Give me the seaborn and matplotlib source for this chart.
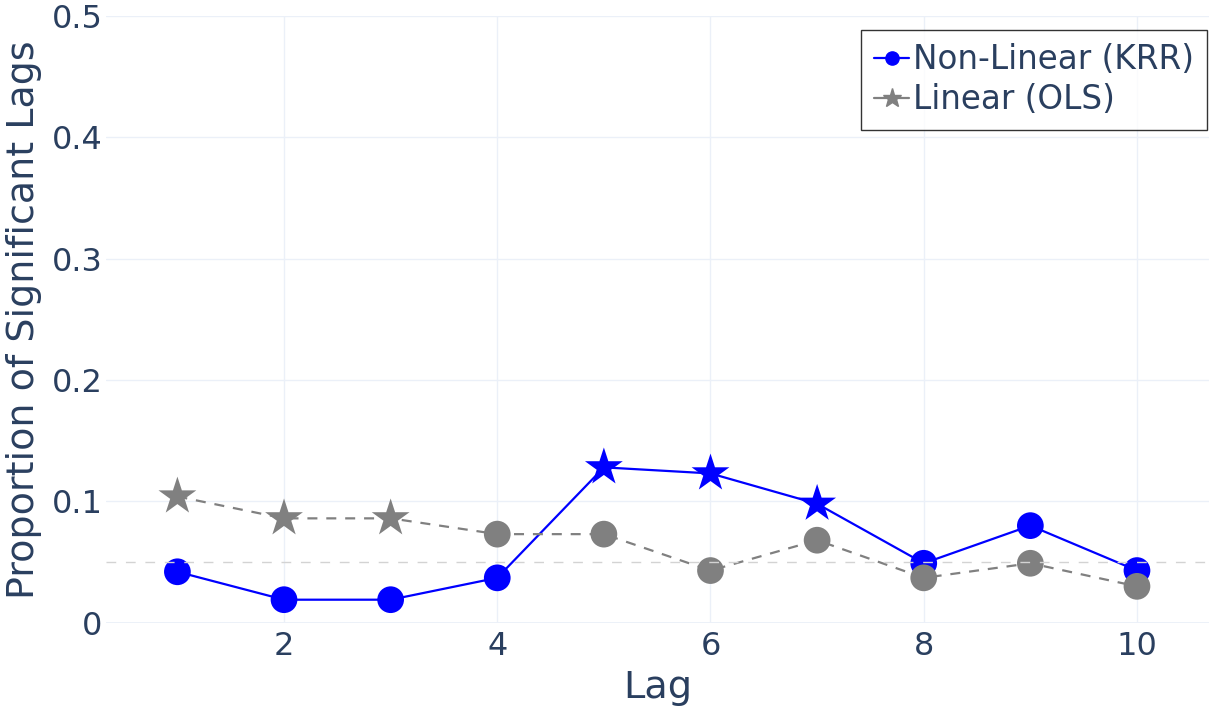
import numpy as np
import pandas as pd
import matplotlib
matplotlib.use("Agg")
import matplotlib.pyplot as plt
from matplotlib.lines import Line2D
import seaborn as sns

lags = [1, 2, 3, 4, 5, 6, 7, 8, 9, 10]
krr_vals = [0.042, 0.019, 0.019, 0.037, 0.128, 0.123, 0.098, 0.049, 0.080, 0.043]
krr_sig = [False, False, False, False, True, True, True, False, False, False]
ols_vals = [0.104, 0.086, 0.086, 0.073, 0.073, 0.043, 0.068, 0.037, 0.049, 0.030]
ols_sig = [True, True, True, False, False, False, False, False, False, False]
threshold = 0.05
yticks = [0, 0.1, 0.2, 0.3, 0.4, 0.5]
ytick_labels = ["0", "0.1", "0.2", "0.3", "0.4", "0.5"]
xticks = [2, 4, 6, 8, 10]

krr = pd.DataFrame({"lag": lags, "val": krr_vals,
                    "mk": ["star" if s else "circle" for s in krr_sig]})
ols = pd.DataFrame({"lag": lags, "val": ols_vals,
                    "mk": ["star" if s else "circle" for s in ols_sig]})

sns.set_style("white")
plt.rcParams['font.family'] = ['DejaVu Sans']
txt = "#2a3f5f"
grid = "#ebf0f8"

fig = plt.figure(figsize=(12.18, 7.15), dpi=100)
ax = fig.add_axes([0.087, 0.129, 0.906, 0.849])

mk_map = {"circle": "o", "star": "*"}
size_map = {"circle": 370, "star": 820}

# KRR
sns.lineplot(data=krr, x="lag", y="val", ax=ax, color="#0000ff", lw=1.6,
             zorder=3, legend=False)
sns.scatterplot(data=krr, x="lag", y="val", style="mk", markers=mk_map,
                size="mk", sizes=size_map, color="#0000ff", edgecolor="none",
                ax=ax, zorder=4, legend=False)
# OLS
sns.lineplot(data=ols, x="lag", y="val", ax=ax, color="#808080", lw=1.6,
             zorder=5, legend=False)
ax.lines[-1].set_dashes((4.5, 4))
sns.scatterplot(data=ols, x="lag", y="val", style="mk", markers=mk_map,
                size="mk", sizes=size_map, color="#808080", edgecolor="none",
                ax=ax, zorder=6, legend=False)

ax.axhline(threshold, color="#d3d3d3", lw=1, ls=(0, (7, 7)), zorder=7)

ax.set_xlim(0.33, 10.68)
ax.set_ylim(0, 0.5)
ax.set_xticks(xticks)
ax.set_yticks(yticks)
ax.set_yticklabels(ytick_labels)
ax.grid(True, color=grid, lw=1, zorder=0)
ax.axhline(0, color=grid, lw=2, zorder=1)
for s in ax.spines.values():
    s.set_visible(False)
ax.tick_params(axis="both", length=0, labelsize=23, colors=txt, pad=6)
ax.tick_params(axis="y", pad=2.5)
ax.set_xlabel("Lag", fontsize=27.5, color=txt, labelpad=6)
ax.set_ylabel("Proportion of Significant Lags", fontsize=27.4, color=txt, labelpad=7)

handles = [
    Line2D([0], [0], color="#0000ff", lw=1.6, marker="o", markersize=9.5),
    Line2D([0], [0], color="#808080", lw=1.6, marker="*", markersize=14),
]
leg = ax.legend(handles, ["Non-Linear (KRR)", "Linear (OLS)"], loc="upper right",
                bbox_to_anchor=(0.998, 0.977), fontsize=23.5, frameon=True,
                fancybox=False, handlelength=1.05, handletextpad=0.12,
                borderpad=0.42, labelspacing=0.2, borderaxespad=0)
leg.get_frame().set_edgecolor("black")
leg.get_frame().set_linewidth(1)
for t in leg.get_texts():
    t.set_color(txt)

fig.savefig("out.png", dpi=100)
